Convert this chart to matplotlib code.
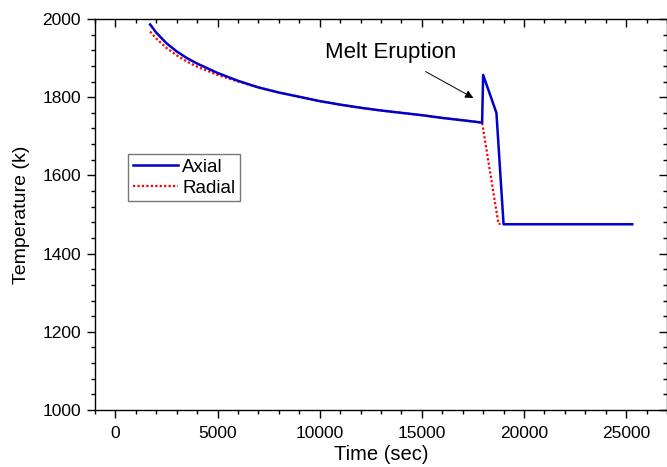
import matplotlib
matplotlib.use("Agg")
import matplotlib.pyplot as plt
from matplotlib.ticker import MultipleLocator

plt.rcParams['font.family'] = ['Liberation Sans', 'DejaVu Sans']

# Data
axial_t = [1700, 2000, 2500, 3000, 3500, 4000, 5000, 6000, 7000, 8000, 9000,
           10000, 11000, 12000, 13000, 14000, 15000, 16000, 17000, 17950,
           18000, 18650, 19000, 25300]
axial_T = [1986, 1965, 1938, 1917, 1900, 1886, 1862, 1842, 1825, 1812, 1801,
           1790, 1781, 1773, 1766, 1760, 1754, 1747, 1741, 1735,
           1857, 1760, 1475, 1475]

radial_t = [1700, 2000, 2500, 3000, 3500, 4000, 5000, 6000, 7000, 8000, 9000,
            10000, 11000, 12000, 13000, 14000, 15000, 16000, 17000, 17950,
            18750, 18850]
radial_T = [1968, 1950, 1926, 1907, 1891, 1878, 1857, 1840, 1825, 1812, 1801,
            1790, 1781, 1773, 1766, 1760, 1754, 1747, 1741, 1735,
            1476, 1476]

fig = plt.figure(figsize=(6.67, 4.67), dpi=100)
ax = fig.add_axes([95/667, 1 - 410/467, 572/667, 391/467])

ax.plot(axial_t, axial_T, color='#0000CC', lw=1.8, label='Axial', zorder=3)
ax.plot(radial_t, radial_T, color='#FF0000', lw=1.6, ls=(0, (1, 1)), label='Radial', zorder=2)

ax.set_xlim(-1000, 27000)
ax.set_ylim(1000, 2000)
ax.xaxis.set_major_locator(MultipleLocator(5000))
ax.xaxis.set_minor_locator(MultipleLocator(1000))
ax.yaxis.set_major_locator(MultipleLocator(200))
ax.yaxis.set_minor_locator(MultipleLocator(40))

ax.tick_params(axis='both', which='major', direction='out', length=5.5, width=1,
               labelsize=12.5, top=True, right=True)
ax.tick_params(axis='x', which='major', pad=6)
ax.tick_params(axis='y', which='major', pad=4.5)
ax.tick_params(axis='both', which='minor', direction='out', length=3, width=1,
               top=True, right=True)
# top and right ticks point inward
for t in ax.xaxis.get_major_ticks() + ax.xaxis.get_minor_ticks():
    t.tick2line.set_marker(3)  # TICKDOWN
for t in ax.yaxis.get_major_ticks() + ax.yaxis.get_minor_ticks():
    t.tick2line.set_marker(0)  # TICKLEFT
for s in ax.spines.values():
    s.set_linewidth(1)

ax.set_xlabel('Time (sec)', fontsize=14.5, labelpad=3)
ax.set_ylabel('Temperature (k)', fontsize=14, labelpad=9)

ax.annotate('Melt Eruption', xy=(17520, 1798), xytext=(13470, 1915),
            fontsize=16, ha='center', va='center',
            arrowprops=dict(arrowstyle='-|>', color='black', lw=0.7,
                            mutation_scale=12, shrinkA=9, shrinkB=0))

leg = ax.legend(loc='upper left', bbox_to_anchor=(0.0577, 0.655), fontsize=13.5,
                frameon=True, fancybox=False, handlelength=2.4, handletextpad=0.25,
                borderpad=0.25, labelspacing=0.2, borderaxespad=0)
leg.get_frame().set_edgecolor('#555555')
leg.get_frame().set_linewidth(1)

fig.savefig('out.png', dpi=100)
